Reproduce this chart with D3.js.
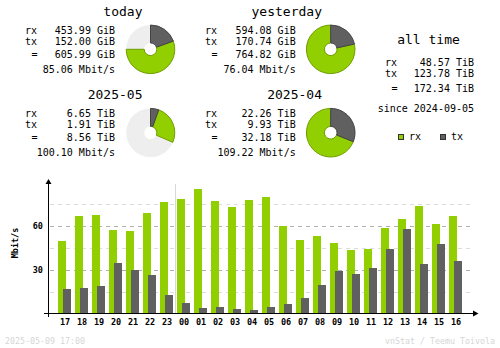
<!DOCTYPE html>
<html><head><meta charset="utf-8">
<script src="https://cdn.jsdelivr.net/npm/d3@7/dist/d3.min.js"></script>
<style>
body{margin:0;background:#fff}
svg{display:block}
text{font-family:"DejaVu Sans Mono",monospace;fill:#000}
</style>
</head><body><svg id="c" width="500" height="348"></svg>
<script>
// ---------- data ----------
const hours   = ["17","18","19","20","21","22","23","00","01","02","03","04","05","06","07","08","09","10","11","12","13","14","15","16"];
const rxRates = [49.3,66.3,67.0,56.8,56.1,68.4,75.9,77.9,84.8,76.6,72.5,77.3,79.3,59.5,50.0,52.7,47.9,43.2,43.9,58.2,64.3,73.2,60.9,66.3];
const txRates = [16.6,17.3,18.6,34.3,29.5,26.1,12.5,7.0,3.6,4.3,2.9,2.3,4.3,6.4,10.4,19.3,28.9,26.8,30.9,43.9,57.5,33.6,47.3,35.7];
const yTicks = [30, 60];
const yMinorTicks = [15, 45, 75];
const yMax = 90;

const summaryTitles = ["today","yesterday","2025-05","2025-04"];
const summaryRx     = ["453.99 GiB","594.08 GiB","6.65 TiB","22.26 TiB"];
const summaryTx     = ["152.00 GiB","170.74 GiB","1.91 TiB","9.93 TiB"];
const summaryTotal  = ["605.99 GiB","764.82 GiB","8.56 TiB","32.18 TiB"];
const summaryRate   = ["85.06 Mbit/s","76.04 Mbit/s","100.10 Mbit/s","109.22 Mbit/s"];
const pieTxPct      = [19.5, 21.5, 5.5, 31];
const pieRxPct      = [55.5, 78.5, 26, 69];

const allTimeTitle  = "all time";
const allTimeLabels = ["rx","tx","="];
const allTimeValues = ["48.57 TiB","123.78 TiB","172.34 TiB"];
const sinceText     = "since 2024-09-05";
const legendLabels  = ["rx","tx"];
const stampText     = "2025-05-09 17:00";
const creditText    = "vnStat / Teemu Toivola";

// ---------- style ----------
const RX = "#92cf00", TX = "#606060";
const RXD = "#6f9e00", TXD = "#444444";
const PIEBG = "#eeeeee";
const svg = d3.select("#c");

// ---------- summary blocks ----------
const blocks = [
  {left:25,  right:115,   top:6,  cx:150.5, cy:49.3,  titleEnd:142.5},
  {left:205, right:295.7, top:6,  cx:330.7, cy:49.3,  titleEnd:322},
  {left:25,  right:115,   top:89, cx:150.5, cy:132.7, titleEnd:142.5},
  {left:205, right:295.7, top:89, cx:330.7, cy:132.7, titleEnd:322}
];
const arc = d3.arc().innerRadius(6.3).outerRadius(24.3);
blocks.forEach((b,i)=>{
  const g = svg.append("g");
  g.append("text").attr("x",b.titleEnd).attr("y",b.top+10).attr("text-anchor","end")
    .style("font-size","13px").text(summaryTitles[i]);
  const rows = [["rx",summaryRx[i],27.5],["tx",summaryTx[i],39.3],["=",summaryTotal[i],52.2]];
  rows.forEach(r=>{
    g.append("text").attr("x", r[0]==="=" ? b.left+6.5 : b.left).attr("y",b.top+r[2])
      .style("font-size","10px").text(r[0]);
    g.append("text").attr("x",b.right).attr("y",b.top+r[2]).attr("text-anchor","end")
      .style("font-size","10px").text(r[1]);
  });
  g.append("text").attr("x",b.right).attr("y",b.top+67).attr("text-anchor","end")
    .style("font-size","10px").text(summaryRate[i]);
  // donut
  const p = g.append("g").attr("transform",`translate(${b.cx},${b.cy})`);
  const a1 = pieTxPct[i]/100*2*Math.PI;
  const a2 = (pieTxPct[i]+pieRxPct[i])/100*2*Math.PI;
  if (pieTxPct[i]+pieRxPct[i] < 100)
    p.append("path").attr("d",arc({startAngle:0,endAngle:2*Math.PI})).attr("fill",PIEBG);
  p.append("path").attr("d",arc({startAngle:a1,endAngle:a2})).attr("fill",RX).attr("stroke",RXD).attr("stroke-width",1);
  p.append("path").attr("d",arc({startAngle:0,endAngle:a1})).attr("fill",TX).attr("stroke",TXD).attr("stroke-width",1);
});

// all time block
svg.append("text").attr("x",428.5).attr("y",44.3).attr("text-anchor","middle")
  .style("font-size","13px").text(allTimeTitle);
const atY = [66, 77.3, 91.5];
allTimeLabels.forEach((l,i)=>{
  svg.append("text").attr("x", l==="=" ? 391.5 : 385).attr("y",atY[i]).style("font-size","10px").text(l);
  svg.append("text").attr("x",474).attr("y",atY[i]).attr("text-anchor","end").style("font-size","10px").text(allTimeValues[i]);
});
svg.append("text").attr("x",474).attr("y",111.5).attr("text-anchor","end").style("font-size","10px").text(sinceText);
// legend
[[398.5,RX,RXD,409],[440.5,TX,TXD,451]].forEach((l,i)=>{
  svg.append("rect").attr("x",l[0]).attr("y",134.5).attr("width",5).attr("height",5)
    .attr("fill",l[1]).attr("stroke","#333").attr("stroke-width",1).attr("shape-rendering","crispEdges");
  svg.append("text").attr("x",l[3]).attr("y",140).style("font-size","10px").text(legendLabels[i]);
});

// ---------- bar chart ----------
const x = d3.scaleBand().domain(hours).range([56.5, 56.5+24*17]).paddingInner(0).paddingOuter(0);
const y = d3.scaleLinear().domain([0,yMax]).range([313.5,181.5]);
const chart = svg.append("g");
// gridlines
yMinorTicks.forEach(t=>{
  chart.append("line").attr("x1",50).attr("x2",473).attr("y1",Math.round(y(t))+0.5).attr("y2",Math.round(y(t))+0.5)
    .attr("stroke","#dcdcdc").attr("stroke-dasharray","4,4").attr("shape-rendering","crispEdges");
});
yTicks.forEach(t=>{
  chart.append("line").attr("x1",50).attr("x2",473).attr("y1",Math.round(y(t))+0.5).attr("y2",Math.round(y(t))+0.5)
    .attr("stroke","#b0b0b0").attr("stroke-dasharray","4,4").attr("shape-rendering","crispEdges");
});
// day separator
const sep = (x("23")+x.bandwidth() + x("00"))/2;
chart.append("line").attr("x1",sep).attr("x2",sep).attr("y1",184).attr("y2",313)
  .attr("stroke","#d8d8d8").attr("shape-rendering","crispEdges");
// bars
const bw = x.bandwidth();
chart.selectAll("rect.rx").data(hours).enter().append("rect")
  .attr("x",d=>x(d)+bw/2-7).attr("width",8)
  .attr("y",(d,i)=>y(rxRates[i])).attr("height",(d,i)=>y(0)-y(rxRates[i]))
  .attr("fill",RX).attr("shape-rendering","crispEdges");
chart.selectAll("rect.tx").data(hours).enter().append("rect")
  .attr("x",d=>x(d)+bw/2-2).attr("width",8)
  .attr("y",(d,i)=>y(txRates[i])).attr("height",(d,i)=>y(0)-y(txRates[i]))
  .attr("fill",TX).attr("shape-rendering","crispEdges");
// axes
chart.append("line").attr("x1",44).attr("x2",475).attr("y1",313.5).attr("y2",313.5)
  .attr("stroke","#000").attr("shape-rendering","crispEdges");
chart.append("line").attr("x1",48.5).attr("x2",48.5).attr("y1",182).attr("y2",317)
  .attr("stroke","#000").attr("shape-rendering","crispEdges");
chart.append("path").attr("d","M473,310.5L478.5,313.5L473,316.5Z").attr("fill","#000");
chart.append("path").attr("d","M45.5,184L48.5,179L51.5,184Z").attr("fill","#000");
// x labels
chart.selectAll("text.h").data(hours).enter().append("text")
  .attr("x",d=>x(d)+bw/2).attr("y",324.5).attr("text-anchor","middle")
  .style("font-size","8.5px").style("font-weight","bold").text(d=>d);
// y labels
yTicks.forEach(t=>{
  chart.append("text").attr("x",43).attr("y",y(t)+3).attr("text-anchor","end")
    .style("font-size","8.5px").style("font-weight","bold").text(t);
});
chart.append("text").attr("transform","translate(17.5,243) rotate(-90)").attr("text-anchor","middle")
  .style("font-size","8.5px").style("font-weight","bold").text("Mbit/s");
// footer
svg.append("text").attr("x",5).attr("y",343.5).style("font-size","8.3px").style("fill","#d6d6d6").text(stampText);
svg.append("text").attr("x",495).attr("y",343.5).attr("text-anchor","end").style("font-size","8.3px").style("fill","#d6d6d6").text(creditText);
</script>
</body></html>
